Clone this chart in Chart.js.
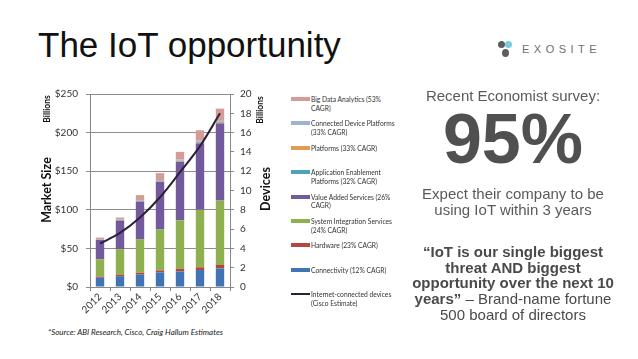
<!DOCTYPE html>
<html><head><meta charset="utf-8">
<script src="https://cdn.jsdelivr.net/npm/chart.js@4"></script>
<style>
body{margin:0;width:638px;height:359px;background:#fff;position:relative;overflow:hidden;font-family:"Liberation Sans",Arial,sans-serif;}
.abs{position:absolute;white-space:nowrap;}
.rot{position:absolute;white-space:nowrap;transform:translate(-50%,-50%) rotate(-90deg);font-family:Lato,sans-serif;font-weight:bold;color:#111;}
#legend .item{position:absolute;left:291px;display:flex;align-items:flex-start;}
#legend .sw{width:19px;height:4px;margin-top:2px;margin-right:1px;flex:none;}
#legend .tx{font-family:Lato,sans-serif;font-size:6.7px;line-height:8.8px;color:#333;white-space:pre;}
.c{position:absolute;left:393px;width:240px;text-align:center;}
</style></head><body>
<div class="abs" style="left:38px;top:25px;font-size:35px;color:#111;">The IoT opportunity</div>

<div style="position:absolute;left:498px;top:41px;width:7px;height:7px;border-radius:50%;background:#5d5d5d;"></div>
<div style="position:absolute;left:505px;top:41px;width:7px;height:7px;border-radius:50%;background:#7ccbdc;"></div>
<div style="position:absolute;left:502px;top:49px;width:7px;height:8px;border-radius:50%;background:#5d5d5d;"></div>
<div class="abs" style="left:522px;top:43px;font-size:11px;letter-spacing:4.5px;color:#6e6e6e;">EXOSITE</div>

<div style="position:absolute;left:0;top:80px;width:285px;height:240px;"><canvas id="c" width="285" height="240"></canvas></div>
<div class="rot" style="left:47px;top:109px;font-size:8.5px;">Billions</div>
<div class="rot" style="left:46px;top:190px;font-size:12.5px;">Market Size</div>
<div class="rot" style="left:260px;top:110px;font-size:8.5px;">Billions</div>
<div class="rot" style="left:265px;top:189px;font-size:12.5px;">Devices</div>
<div id="legend"></div>
<div class="abs" style="left:48px;top:327px;font-family:Lato,sans-serif;font-style:italic;font-size:8px;color:#222;">*Source: ABI Research, Cisco, Craig Hallum Estimates</div>

<div class="c" style="top:87px;font-size:15px;color:#5a5a5a;">Recent Economist survey:</div>
<div class="c" style="top:99px;font-size:70px;font-weight:bold;color:#505050;">95%</div>
<div class="c" style="top:186px;font-size:15px;line-height:16px;color:#5a5a5a;">Expect their company to be<br>using IoT within 3 years</div>
<div class="c" style="top:244px;font-size:15px;line-height:15.7px;color:#4a4a4a;"><b>“IoT is our single biggest<br>threat AND biggest<br>opportunity over the next 10<br>years”</b> – Brand-name fortune<br>500 board of directors</div>

<script>
const years = ['2012','2013','2014','2015','2016','2017','2018'];
const connectivity = [12, 14, 16, 19, 20, 22, 24];
const hardware = [1.5, 2, 2.5, 2.5, 3.5, 3.5, 4.5];
const systemIntegration = [22.5, 33, 43.5, 53, 63, 74.5, 83.5];
const valueAdded = [25, 37, 48.5, 61.5, 75.5, 86, 99.5];
const appEnablement = [0.3, 0.4, 0.5, 0.6, 0.7, 0.8, 1];
const platforms = [0.3, 0.5, 0.6, 0.8, 1, 1.2, 1.5];
const connectedDevice = [0.5, 0.8, 1, 1.2, 1.5, 1.8, 2.2];
const bigData = [1.9, 2.3, 6.4, 8.9, 9.8, 13.2, 14.8];
const devices = [4.5, 5.6, 7.2, 9.3, 11.9, 14.6, 18.0];
const marketTicks = [0, 50, 100, 150, 200, 250];
const deviceTicks = [0, 2, 4, 6, 8, 10, 12, 14, 16, 18, 20];

const barSeries = [
  {label:'Connectivity (12% CAGR)', data:connectivity, color:'#4174b4'},
  {label:'Hardware (23% CAGR)', data:hardware, color:'#b4473f'},
  {label:'System Integration Services\n(24% CAGR)', data:systemIntegration, color:'#8fb050'},
  {label:'Value Added Services (26%\nCAGR)', data:valueAdded, color:'#735a9c'},
  {label:'Application Enablement\nPlatforms (32% CAGR)', data:appEnablement, color:'#4aa3b8'},
  {label:'Platforms (33% CAGR)', data:platforms, color:'#e39a55'},
  {label:'Connected Device Platforms\n(33% CAGR)', data:connectedDevice, color:'#9fb3d0'},
  {label:'Big Data Analytics (53%\nCAGR)', data:bigData, color:'#d59b96'}
];
const lineSeries = {label:'Internet-connected devices\n(Cisco Estimate)', data:devices, color:'#2b2035'};

const datasets = barSeries.map(s => ({
  type:'bar', label:s.label, data:s.data, backgroundColor:s.color, yAxisID:'y', order:1,
  barPercentage:0.42, categoryPercentage:1
}));
datasets.push({type:'line', label:lineSeries.label, data:lineSeries.data, borderColor:lineSeries.color,
  borderWidth:2, pointRadius:0, tension:0.35, yAxisID:'y2', order:0, fill:false});

const tickFont = {family:'Lato', size:10};
new Chart(document.getElementById('c'), {
  type:'bar',
  data:{labels:years, datasets},
  options:{
    responsive:false, animation:false, devicePixelRatio:1,
    layout:{padding:{left:50, right:25, top:11, bottom:3}},
    plugins:{legend:{display:false}, tooltip:{enabled:false}},
    scales:{
      x:{stacked:true,
        grid:{offset:true, drawOnChartArea:false, tickLength:4, color:'#888'},
        border:{color:'#888'},
        ticks:{autoSkip:false, minRotation:45, maxRotation:45, font:tickFont, color:'#333', padding:0},
        afterFit(s){s.height=30;}},
      y:{stacked:true, position:'left', min:0, max:250,
        afterBuildTicks(s){s.ticks = marketTicks.map(v=>({value:v}));},
        ticks:{callback:v=>'$'+v, padding:8, font:tickFont, color:'#333'},
        grid:{color:'#8c8c8c', tickLength:4},
        border:{color:'#888'},
        afterFit(s){s.width=40;}},
      y2:{position:'right', min:0, max:20,
        afterBuildTicks(s){s.ticks = deviceTicks.map(v=>({value:v}));},
        ticks:{padding:6, font:tickFont, color:'#333'},
        grid:{drawOnChartArea:false, tickLength:4, color:'#888'},
        border:{color:'#888'},
        afterFit(s){s.width=30;}}
    }
  }
});

const legendItems = barSeries.slice().reverse().map(s=>({label:s.label, color:s.color, line:false}));
legendItems.push({label:lineSeries.label, color:lineSeries.color, line:true});
const lg = document.getElementById('legend');
legendItems.forEach((it,i)=>{
  const d = document.createElement('div');
  d.className='item';
  d.style.top = (95 + i*24.4) + 'px';
  const sw = document.createElement('div');
  sw.className='sw';
  sw.style.background = it.color;
  if(it.line){sw.style.height='2px'; sw.style.marginTop='3px';}
  const tx = document.createElement('div');
  tx.className='tx';
  tx.textContent = it.label;
  d.appendChild(sw); d.appendChild(tx);
  lg.appendChild(d);
});
</script>
</body></html>
